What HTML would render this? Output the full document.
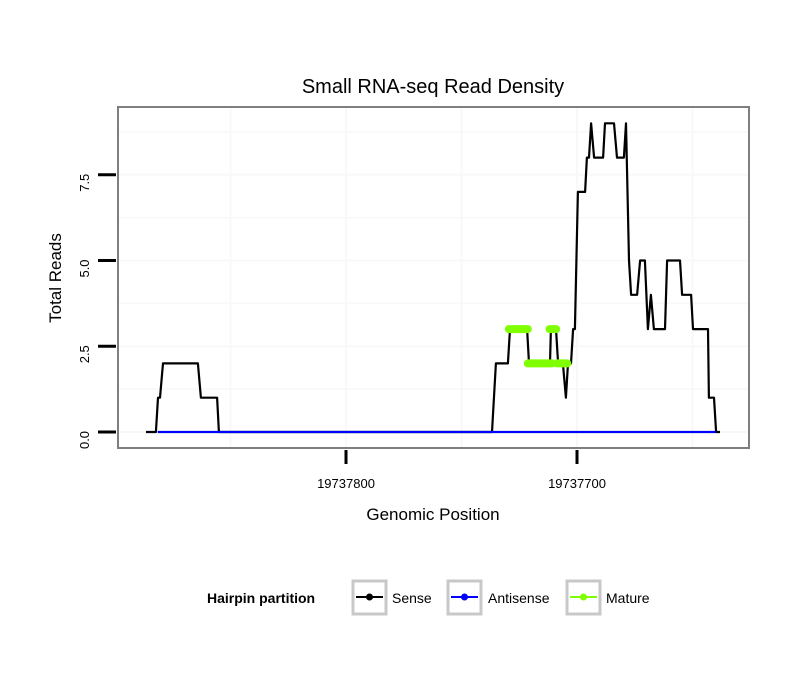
<!DOCTYPE html>
<html><head><meta charset="utf-8"><style>
body{margin:0;background:#fff;font-family:"Liberation Sans",sans-serif}
</style></head><body>
<svg id="chart" width="810" height="690" xmlns="http://www.w3.org/2000/svg">
<rect width="810" height="690" fill="#fff"/>
<text x="433" y="93" font-size="20" text-anchor="middle">Small RNA-seq Read Density</text>
<g id="grid"></g>
<g id="series"></g>
<rect x="118" y="107" width="631" height="341" fill="none" stroke="#7f7f7f" stroke-width="2"/>
<g id="axes"></g>
<text x="433" y="520" font-size="17" text-anchor="middle">Genomic Position</text>
<text transform="translate(61,278) rotate(-90)" font-size="17" text-anchor="middle">Total Reads</text>
<g>
<text x="207" y="603" font-size="14" font-weight="bold">Hairpin partition</text>
<g>
<rect x="353" y="581" width="33" height="33" fill="#fff" stroke="#c8c8c8" stroke-width="3"/>
<line x1="356" y1="597" x2="383" y2="597" stroke="#000" stroke-width="2"/><circle cx="369.5" cy="597" r="3.5" fill="#000"/>
<text x="392" y="603" font-size="14">Sense</text></g>
<g>
<rect x="448" y="581" width="33" height="33" fill="#fff" stroke="#c8c8c8" stroke-width="3"/>
<line x1="451" y1="597" x2="478" y2="597" stroke="#0000ff" stroke-width="2"/><circle cx="464.5" cy="597" r="3.5" fill="#0000ff"/>
<text x="488" y="603" font-size="14">Antisense</text></g>
<g>
<rect x="567" y="581" width="33" height="33" fill="#fff" stroke="#c8c8c8" stroke-width="3"/>
<line x1="570" y1="597" x2="597" y2="597" stroke="#7fff00" stroke-width="2"/><circle cx="583.5" cy="597" r="3.5" fill="#7fff00"/>
<text x="606" y="603" font-size="14">Mature</text></g>
</g>
</svg>
<script>
const senseX=[19737886.6,19737882.3,19737881.4,19737880.5,19737879.2,19737864.1,19737862.8,19737855.8,19737855,19737736.8,19737735.1,19737729.9,19737729,19737721.6,19737720.8,19737711.7,19737711.3,19737709.1,19737708.2,19737706.1,19737704.8,19737703.9,19737702.6,19737701.7,19737700.9,19737699.6,19737696.5,19737695.7,19737694.8,19737693.9,19737692.6,19737688.7,19737687.9,19737684,19737682.7,19737679.7,19737678.8,19737677.5,19737676.6,19737674,19737672.7,19737670.6,19737669.3,19737668,19737666.7,19737661.9,19737661,19737655.4,19737654.5,19737650.6,19737649.8,19737643.3,19737642.9,19737640.7,19737639.8,19737638.1];
const senseY=[0,0,1,1,2,2,1,1,0,0,2,2,3,3,2,2,3,3,2,2,1,2,2,3,3,7,7,8,8,9,8,8,9,9,8,8,9,5,4,4,5,5,3,4,3,3,5,5,4,4,3,3,1,1,0,0];
const antiX=[19737881.5,19737640];
const antiY=[0,0];
const matureSegX=[[19737729.5,19737721.3],[19737721.3,19737710.8],[19737711.9,19737709],[19737708.6,19737704.2]];
const matureSegY=[3,2,3,2];
const yTicks=[0,2.5,5,7.5];
const yTickLabels=["0.0","2.5","5.0","7.5"];
const xTicks=[19737800,19737700];
const xTickLabels=["19737800","19737700"];
const xMinor=[19737850,19737750,19737650];
const yGrid=[0,1.25,2.5,3.75,5,6.25,7.5,8.75];

const NS="http://www.w3.org/2000/svg";
const sx=v=>346+(19737800-v)*2.31;
const sy=v=>432-v*34.3;
function mk(tag,attrs,parent){const e=document.createElementNS(NS,tag);for(const k in attrs)e.setAttribute(k,attrs[k]);parent.appendChild(e);return e;}
const grid=document.getElementById('grid'),series=document.getElementById('series'),axes=document.getElementById('axes');
yGrid.forEach(v=>{const l=mk('line',{x1:119,x2:748,y1:sy(v),y2:sy(v),stroke:'#f8f8f8','stroke-width':v%2.5===0?2:1.5},grid);

});
xTicks.concat(xMinor).forEach(v=>{const l=mk('line',{x1:sx(v),x2:sx(v),y1:108,y2:447,stroke:'#f8f8f8','stroke-width':2},grid);

});
function path(xs,ys){return xs.map((x,i)=>(i?'L':'M')+sx(x).toFixed(1)+','+sy(ys[i]).toFixed(1)).join(' ');}
const s=mk('path',{d:path(senseX,senseY),fill:'none',stroke:'#000','stroke-width':2.2,'stroke-linejoin':'round'},series);


const a=mk('path',{d:path(antiX,antiY),fill:'none',stroke:'#0000ff','stroke-width':2.2},series);


matureSegX.forEach((seg,i)=>{const m=mk('line',{x1:sx(seg[0]),x2:sx(seg[1]),y1:sy(matureSegY[i]),y2:sy(matureSegY[i]),stroke:'#7fff00','stroke-width':8,'stroke-linecap':'round'},series);

});
yTicks.forEach((v,i)=>{const t=mk('line',{x1:98,x2:116,y1:sy(v),y2:sy(v),stroke:'#000','stroke-width':3},axes);


const tx=mk('text',{transform:`translate(89,${sy(v)+8}) rotate(-90)`,'font-size':13,'text-anchor':'middle'},axes);tx.textContent=yTickLabels[i];

});
xTicks.forEach((v,i)=>{const t=mk('line',{x1:sx(v),x2:sx(v),y1:450,y2:464,stroke:'#000','stroke-width':3},axes);


const tx=mk('text',{x:sx(v),y:488,'font-size':13,'text-anchor':'middle'},axes);tx.textContent=xTickLabels[i];

});
</script>
</body></html>
